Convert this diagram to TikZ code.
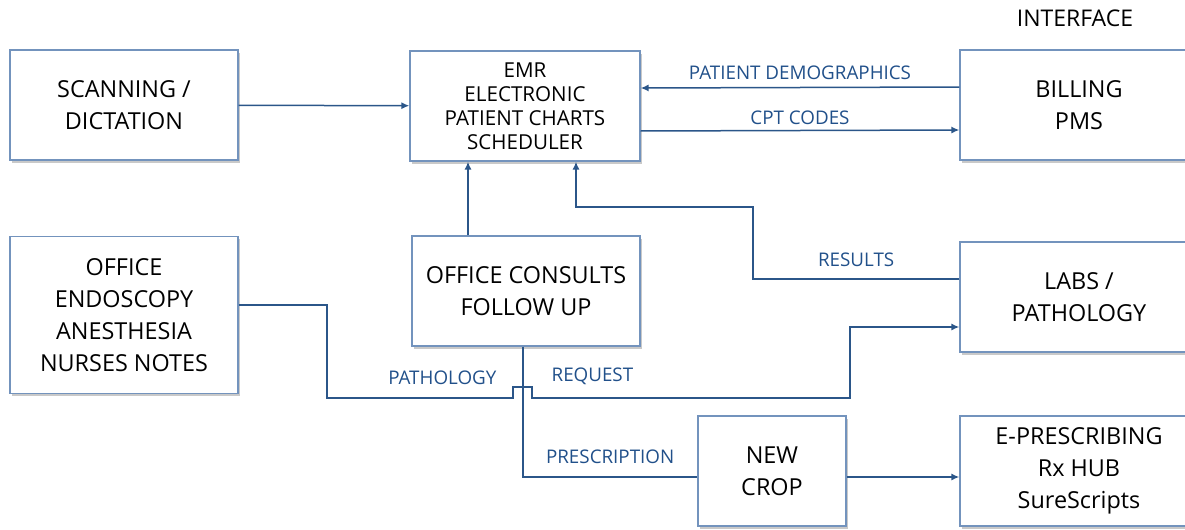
\documentclass[tikz,border=0pt]{standalone}
\usepackage{fontspec}
\setmainfont{Open Sans}
\usetikzlibrary{arrows.meta, positioning, shadows, calc}

\definecolor{linkblue}{HTML}{2B5689}
\definecolor{labelblue}{HTML}{21508A}
\definecolor{boxedge}{HTML}{7393BD}

\begin{document}
\begin{tikzpicture}[
    x=0.5pt, y=-0.5pt,
    box/.style={rectangle, draw=boxedge, line width=0.7pt, fill=white, align=center,
        font=\fontsize{11.7}{16}\selectfont, minimum width=114pt, minimum height=55pt,
        drop shadow={shadow xshift=1pt, shadow yshift=-1.3pt, opacity=0.3, fill=black!70}},
    wide/.style={box, minimum width=119pt},
    link/.style={draw=linkblue, line width=0.75pt},
    arrow/.style={link, -{Latex[length=4pt, width=3.6pt]}},
    lbl/.style={font=\fontsize{9.4}{10}\selectfont, text=labelblue, inner sep=2pt}
]
\useasboundingbox (0,0) rectangle (1185,530);

% Top row
\node[box] (scan) at (124,105) {SCANNING /\\DICTATION};
\node[box, minimum width=115pt, font=\fontsize{10.3}{12}\selectfont] (emr) at (525,106) {EMR\\ELECTRONIC\\PATIENT CHARTS\\SCHEDULER};
\node[wide] (billing) at (1079,105) {BILLING\\PMS};
\node[font=\fontsize{11.5}{14}\selectfont] (interface) at (1075,18) {INTERFACE};

% Middle row
\node[box, minimum height=78.5pt] (office) at (124,315) {OFFICE\\ENDOSCOPY\\ANESTHESIA\\NURSES NOTES};
\node[box] (consults) at (526,291) {OFFICE CONSULTS\\FOLLOW UP};
\node[wide] (labs) at (1079,297) {LABS /\\PATHOLOGY};

% Bottom row
\node[box, minimum width=74pt] (newcrop) at (772,471) {NEW\\CROP};
\node[wide] (erx) at (1079,471) {E-PRESCRIBING\\Rx HUB\\SureScripts};

% Bend points
\coordinate (resbend) at (753,207);
\coordinate (pathdown) at (327,398);
\coordinate (hopL) at (513,398);
\coordinate (hopR) at (532,398);
\coordinate (requp) at (850,398);

% Arrows
\draw[arrow] (scan) -- (emr);
\draw[arrow] ([yshift=9pt]billing.west) -- node[lbl, above=1.5pt] {PATIENT DEMOGRAPHICS} ([yshift=9pt]emr.east);
\draw[arrow] ([yshift=-12.5pt]emr.east) -- node[lbl, above=0.5pt] {CPT CODES} ([yshift=-12.5pt]billing.west);
\draw[arrow] ([xshift=-29pt]consults.north) -- ([xshift=-29pt]consults.north |- emr.south);
\draw[arrow] ([yshift=9pt]labs.west) -| node[lbl, above=4pt, pos=0.25] {RESULTS} (resbend) -| ([xshift=25.5pt]emr.south);
\draw[arrow] ([yshift=5pt]office.east) -| (pathdown) -- node[lbl, above=4.5pt, pos=0.62] {PATHOLOGY} (hopL)
    -- ++(0,-11) -- ++(19,0) -- (hopR) -- node[lbl, above=4.5pt, pos=0.19] {REQUEST} (requp) |- ([yshift=-15pt]labs.west);
\draw[link] ([xshift=-1.5pt]consults.south) |- node[lbl, above=4.5pt, pos=0.75] {PRESCRIPTION} ([yshift=-3pt]newcrop.west);
\draw[arrow] ([yshift=-3pt]newcrop.east) -- ([yshift=-3pt]erx.west);

\end{tikzpicture}
\end{document}
